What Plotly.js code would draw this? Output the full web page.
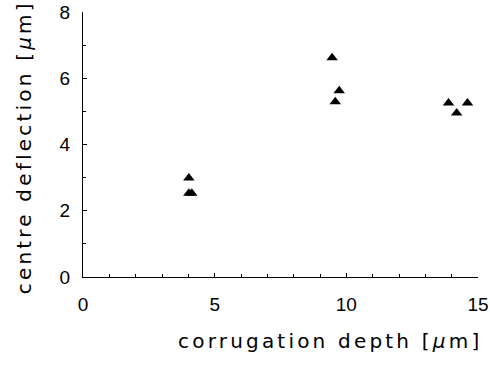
<!DOCTYPE html>
<html>
<head>
<meta charset="utf-8">
<script src="https://cdn.plot.ly/plotly-3.0.1.min.js"></script>
<style>
html,body{margin:0;padding:0;background:#fff;}
#chart{width:490px;height:365px;}
.annotation-text{letter-spacing:3.2px;}
</style>
</head>
<body>
<div id="chart"></div>
<script>
// corrugation depth [µm]
var depth = [4.02, 4.02, 4.13, 9.46, 9.73, 9.58, 13.88, 14.19, 14.6];
// centre deflection [µm]
var deflection = [2.99, 2.53, 2.53, 6.62, 5.62, 5.29, 5.25, 4.95, 5.25];

var xTickVals = [0, 5, 10, 15];
var yTickVals = [0, 2, 4, 6, 8];

var tickFam = 'Liberation Sans, Arial, sans-serif';
var titleFam = 'DejaVu Sans, Liberation Sans, sans-serif';

var trace = {
  x: depth,
  y: deflection,
  type: 'scatter',
  mode: 'markers',
  marker: {symbol: 'triangle-up', size: 10, color: '#000'},
  cliponaxis: false,
  hoverinfo: 'none'
};

var layout = {
  width: 490,
  height: 365,
  margin: {l: 83, r: 12, t: 12, b: 88},
  paper_bgcolor: '#fff',
  plot_bgcolor: '#fff',
  showlegend: false,
  font: {family: tickFam, color: '#000', size: 18},
  xaxis: {
    range: [0, 15],
    tickvals: xTickVals,
    ticktext: xTickVals.map(String),
    ticks: 'inside',
    ticklen: 4,
    tickwidth: 1,
    tickcolor: '#000',
    minor: {dtick: 1, ticks: 'inside', ticklen: 3, tickcolor: '#000', tickwidth: 1},
    showline: true,
    linecolor: '#000',
    linewidth: 1,
    showgrid: false,
    zeroline: false,
    tickfont: {size: 19},
    ticklabelstandoff: 10
  },
  yaxis: {
    range: [0, 8],
    tickvals: yTickVals,
    ticktext: yTickVals.map(String),
    ticks: 'inside',
    ticklen: 4,
    tickwidth: 1,
    tickcolor: '#000',
    minor: {dtick: 1, ticks: 'inside', ticklen: 3, tickcolor: '#000', tickwidth: 1},
    showline: true,
    linecolor: '#000',
    linewidth: 1,
    showgrid: false,
    zeroline: false,
    tickfont: {size: 19},
    ticklabelstandoff: 8
  },
  annotations: [
    {
      text: 'corrugation depth [<i>μ</i>m]',
      xref: 'paper', yref: 'paper',
      x: 0.625, y: -0.24,
      xanchor: 'center', yanchor: 'middle',
      showarrow: false,
      font: {size: 20, family: titleFam, color: '#000'}
    },
    {
      text: 'centre deflection [<i>μ</i>m]',
      xref: 'paper', yref: 'paper',
      x: -0.149, y: 0.49,
      xanchor: 'center', yanchor: 'middle',
      textangle: -90,
      showarrow: false,
      font: {size: 20, family: titleFam, color: '#000'}
    }
  ]
};

Plotly.newPlot('chart', [trace], layout, {displayModeBar: false, staticPlot: true});
</script>
</body>
</html>
